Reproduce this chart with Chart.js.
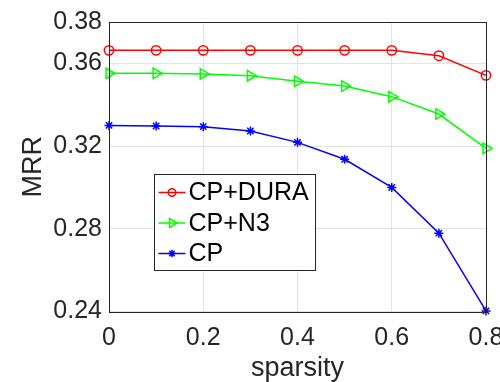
<!DOCTYPE html>
<html>
<head>
<meta charset="utf-8">
<script src="https://cdn.jsdelivr.net/npm/chart.js@4.4.1/dist/chart.umd.min.js"></script>
<style>
  html, body { margin: 0; padding: 0; background: #fff; overflow: hidden; }
  #wrap { width: 500px; height: 382px; position: relative; }
</style>
</head>
<body>
<div id="wrap"><canvas id="chart"></canvas></div>
<script>
const sparsity = [0, 0.1, 0.2, 0.3, 0.4, 0.5, 0.6, 0.7, 0.8];
const cpDura = [0.3663, 0.3663, 0.3663, 0.3663, 0.3663, 0.3663, 0.3663, 0.3637, 0.3542];
const cpN3 = [0.3552, 0.3552, 0.3549, 0.3540, 0.3513, 0.3490, 0.3439, 0.3355, 0.3189];
const cp = [0.3300, 0.3297, 0.3294, 0.3273, 0.3218, 0.3136, 0.3000, 0.2779, 0.2403];
const yTicks = [0.24, 0.28, 0.32, 0.36, 0.38];
const xTicks = [0, 0.2, 0.4, 0.6, 0.8];

const FONT = "'Liberation Sans', Arial, sans-serif";
const AXIS_COLOR = "#262626";
const GRID_COLOR = "#e3e3e3";

const toPoints = (ys) => ys.map((y, i) => ({ x: sparsity[i], y: y }));

// MATLAB-style box around the axes
const boxPlugin = {
  id: "box",
  afterDatasetsDraw(chart) {
    const { ctx, chartArea: a } = chart;
    ctx.save();
    ctx.strokeStyle = AXIS_COLOR;
    ctx.lineWidth = 1;
    ctx.strokeRect(Math.round(a.left) + 0.5, Math.round(a.top) + 0.5,
      Math.round(a.right - a.left), Math.round(a.bottom - a.top));
    ctx.restore();
  }
};

// legend inside the plot, line + marker samples
const insideLegend = {
  id: "insideLegend",
  afterDraw(chart) {
    const { ctx } = chart;
    const x0 = 154.5, y0 = 174.5, w = 161, h = 96;
    ctx.save();
    ctx.fillStyle = "#fff";
    ctx.fillRect(x0, y0, w, h);
    ctx.strokeStyle = "#262626";
    ctx.lineWidth = 1;
    ctx.strokeRect(x0, y0, w, h);
    chart.data.datasets.forEach((ds, i) => {
      const cy = y0 + 18 + i * 30.5;
      ctx.strokeStyle = ds.borderColor;
      ctx.fillStyle = "rgba(0,0,0,0)";
      ctx.lineWidth = 1.5;
      ctx.beginPath();
      ctx.moveTo(x0 + 4, cy);
      ctx.lineTo(x0 + 31, cy);
      ctx.stroke();
      Chart.helpers.drawPoint(ctx, {
        pointStyle: ds.pointStyle,
        rotation: ds.rotation || 0,
        radius: ds.pointStyle === "triangle" ? 5 : 3.8,
        borderWidth: 1.3
      }, x0 + 17.5, cy);
      ctx.fillStyle = "#000";
      ctx.font = "25px " + FONT;
      ctx.textBaseline = "middle";
      ctx.textAlign = "left";
      ctx.fillText(ds.label, x0 + 34, cy + 1);
    });
    ctx.restore();
  }
};

new Chart(document.getElementById("chart"), {
  type: "line",
  data: {
    datasets: [
      {
        label: "CP+DURA",
        data: toPoints(cpDura),
        borderColor: "#ff0000",
        backgroundColor: "rgba(0,0,0,0)",
        pointStyle: "circle",
        pointRadius: 4.7,
        pointBorderWidth: 1.5
      },
      {
        label: "CP+N3",
        data: toPoints(cpN3),
        borderColor: "#00ff00",
        backgroundColor: "rgba(0,0,0,0)",
        pointStyle: "triangle",
        rotation: 90,
        pointRadius: 6,
        pointBorderWidth: 1.5
      },
      {
        label: "CP",
        data: toPoints(cp),
        borderColor: "#0000ff",
        backgroundColor: "rgba(0,0,0,0)",
        pointStyle: "star",
        pointRadius: 4.5,
        pointBorderWidth: 1.5
      }
    ]
  },
  plugins: [boxPlugin, insideLegend],
  options: {
    responsive: true,
    maintainAspectRatio: false,
    animation: false,
    clip: false,
    layout: {
      padding: { top: 22, right: 14, left: 0, bottom: 0 }
    },
    elements: {
      line: { borderWidth: 1.5, tension: 0 }
    },
    plugins: {
      legend: { display: false },
      tooltip: { enabled: false }
    },
    scales: {
      x: {
        type: "linear",
        min: 0,
        max: 0.8,
        afterBuildTicks: (scale) => {
          scale.ticks = xTicks.map(v => ({ value: v }));
        },
        afterFit: (scale) => {
          scale.paddingLeft = 0;
          scale.paddingRight = 0;
          scale.height = 70.5;
        },
        ticks: {
          color: "#262626",
          padding: 12,
          maxRotation: 0,
          font: { family: FONT, size: 25 },
          callback: (v) => String(v)
        },
        grid: { color: GRID_COLOR, drawTicks: false },
        border: { display: false },
        title: {
          display: true,
          text: "sparsity",
          color: "#262626",
          font: { family: FONT, size: 27 },
          padding: { top: 0, bottom: -3 }
        }
      },
      y: {
        type: "linear",
        min: 0.24,
        max: 0.38,
        afterBuildTicks: (scale) => {
          scale.ticks = yTicks.map(v => ({ value: v }));
        },
        afterFit: (scale) => {
          scale.paddingTop = 0;
          scale.paddingBottom = 0;
          scale.width = 109;
        },
        ticks: {
          color: "#262626",
          padding: 7,
          font: { family: FONT, size: 25 },
          callback: (v) => v.toFixed(2)
        },
        grid: { color: GRID_COLOR, drawTicks: false },
        border: { display: false },
        title: {
          display: true,
          text: "MRR",
          color: "#262626",
          font: { family: FONT, size: 27 },
          padding: { top: 17, bottom: 0 }
        }
      }
    }
  }
});
</script>
</body>
</html>
